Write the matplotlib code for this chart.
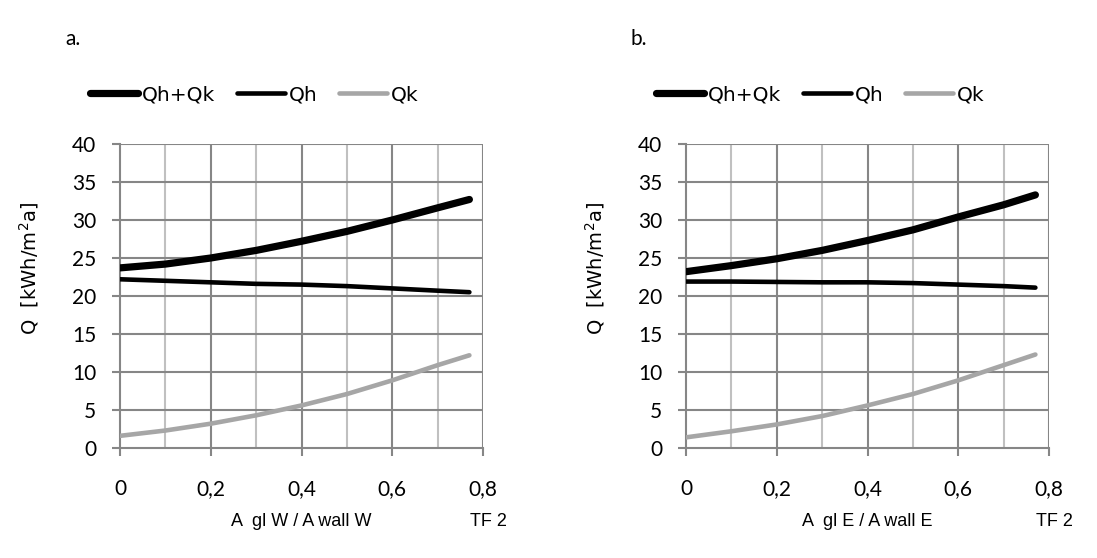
import matplotlib
matplotlib.use("Agg")
import matplotlib.pyplot as plt

x_vals = [0.0, 0.1, 0.2, 0.3, 0.4, 0.5, 0.6, 0.7, 0.77]

# panel a (West)
a_qhqk = [23.7, 24.2, 25.0, 26.0, 27.2, 28.5, 30.0, 31.6, 32.7]
a_qh = [22.2, 22.0, 21.8, 21.6, 21.5, 21.3, 21.0, 20.7, 20.5]
a_qk = [1.6, 2.3, 3.2, 4.3, 5.6, 7.1, 8.9, 10.9, 12.2]

# panel b (East)
b_qhqk = [23.2, 24.0, 24.9, 26.0, 27.3, 28.7, 30.4, 32.0, 33.3]
b_qh = [21.9, 21.9, 21.85, 21.8, 21.8, 21.7, 21.5, 21.3, 21.1]
b_qk = [1.4, 2.2, 3.1, 4.2, 5.6, 7.1, 8.9, 10.9, 12.3]

series_names = ["Qh+Qk", "Qh", "Qk"]
panel_letters = ["a.", "b."]
x_labels = ["A  gl W / A wall W", "A  gl E / A wall E"]
y_label = "Q  [kWh/m$^2$a]"
x_ticks = [0, 0.2, 0.4, 0.6, 0.8]
x_tick_labels = ["0", "0,2", "0,4", "0,6", "0,8"]
y_ticks = [0, 5, 10, 15, 20, 25, 30, 35, 40]

W, H = 1097, 558
fig = plt.figure(figsize=(W / 100, H / 100), dpi=100)

num_font = "Lato"
txt_font = "DejaVu Sans"
arial_font = "Liberation Sans"
major_c = "#868686"
minor_c = "#c0c0c0"
styles = [dict(color="black", lw=5.2), dict(color="black", lw=3.3), dict(color="#a6a6a6", lw=3.3)]


def fx(px):
    return px / W


def fy(py):
    return 1 - py / H


panels = [(0, [a_qhqk, a_qh, a_qk]), (566, [b_qhqk, b_qh, b_qk])]
for i, (off, data) in enumerate(panels):
    ax = fig.add_axes([fx(120 + off), fy(448), 363 / W, 304 / H])
    ax.set_xlim(0, 0.8)
    ax.set_ylim(0, 40)
    for gx in [0.1, 0.3, 0.5, 0.7]:
        ax.axvline(gx, color=minor_c, lw=1.5, zorder=1)
    for gx in [0.2, 0.4, 0.6, 0.8]:
        ax.axvline(gx, color=major_c, lw=1.5, zorder=1)
    for gy in y_ticks[1:]:
        ax.axhline(gy, color=major_c, lw=1.5, zorder=1)
    for s in ["top", "right"]:
        ax.spines[s].set_visible(False)
    for s in ["left", "bottom"]:
        ax.spines[s].set_color(major_c)
        ax.spines[s].set_linewidth(1.5)
    ax.set_xticks(x_ticks)
    ax.set_xticklabels(x_tick_labels, fontfamily=num_font, fontsize=15)
    ax.set_yticks(y_ticks)
    ax.set_yticklabels([str(v) for v in y_ticks], fontfamily=num_font, fontsize=15)
    ax.tick_params(axis="x", length=5.5, width=1.5, color=major_c, pad=17)
    ax.tick_params(axis="y", length=6, width=1.5, color=major_c, pad=11)
    handles = []
    for d, st, nm in zip(data, styles, series_names):
        ln, = ax.plot(x_vals, d, solid_capstyle="round", zorder=3, label=nm, **st)
        handles.append(ln)

    fig.text(fx(29 + off), fy(268), y_label, rotation=90, ha="center", va="center",
             fontfamily=txt_font, fontsize=14)
    fig.text(fx(301 + off), fy(522), x_labels[i], ha="center", va="center",
             fontfamily=arial_font, fontsize=13)
    fig.text(fx(470 + off), fy(522), "TF 2", ha="left", va="center",
             fontfamily=arial_font, fontsize=13)
    fig.text(fx(65 + off), fy(45), panel_letters[i], ha="left", va="baseline",
             fontfamily=num_font, fontsize=15)
    fig.legend(handles=handles, loc="center left", bbox_to_anchor=(fx(90 + off), fy(95)),
               ncol=3, frameon=False, handlelength=2.4, handletextpad=0.2,
               columnspacing=1.05, borderpad=0, borderaxespad=0,
               prop={"family": txt_font, "size": 14.5})

fig.savefig("out.png", dpi=100)
